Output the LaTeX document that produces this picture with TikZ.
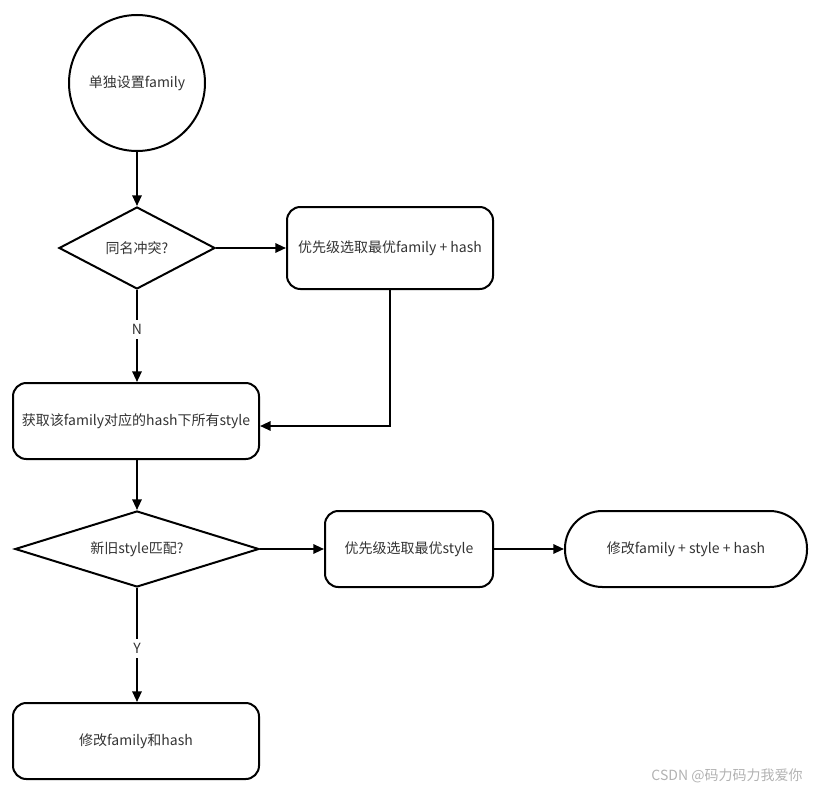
\documentclass[tikz,border=0pt]{standalone}
\usepackage{fontspec}
\setmainfont{Noto Sans CJK SC}
\usetikzlibrary{shapes.geometric,arrows.meta,calc}
\definecolor{txt}{HTML}{333333}
\begin{document}
\begin{tikzpicture}[x=0.75pt,y=-0.75pt,
  every node/.style={font=\fontsize{10.5}{12}\selectfont, text=txt},
  shp/.style={draw=black, line width=1.5pt, inner sep=0pt},
  rbox/.style={shp, rectangle, rounded corners=10pt},
  dia/.style={shp, diamond, aspect=1.9},
  arr/.style={line width=1.5pt, -{Triangle[length=8pt,width=7pt]}},
  lbl/.style={fill=white, inner sep=3pt}]
\useasboundingbox (0,0) rectangle (821,792);
\node[shp, circle, minimum size=102pt] (start) at (137,83) {单独设置family};
\node[dia, minimum width=117pt, minimum height=61.5pt] (d1) at (137,248) {同名冲突?};
\node[rbox, minimum width=154.5pt, minimum height=61.5pt] (r1) at (390,248) {优先级选取最优family + hash};
\node[rbox, minimum width=184.5pt, minimum height=57pt] (r2) at (136,421) {获取该family对应的hash下所有style};
\node[dia, minimum width=183pt, minimum height=57pt] (d2) at (137,549) {新旧style匹配?};
\node[rbox, minimum width=126pt, minimum height=57pt] (r3) at (409,549) {优先级选取最优style};
\node[shp, rectangle, rounded corners=28pt, minimum width=181.5pt, minimum height=57pt] (r4) at (686,549) {修改family + style + hash};
\node[rbox, minimum width=184.5pt, minimum height=57pt] (r5) at (136,741) {修改family和hash};
\node[text=black!30, font=\fontsize{10.5}{12}\selectfont] (wm) at (727,776) {CSDN @码力码力我爱你};
\coordinate (c1) at (390,426);
\draw[arr] (start.south) -- (d1.north);
\draw[arr] (d1.east) -- (r1.west);
\draw[arr] (d1.south) -- node[lbl, pos=0.43] {N} (r2.north -| d1.south);
\draw[arr] (r1.south) -- (c1) -- (r2.east |- c1);
\draw[arr] (r2.south -| d2.north) -- (d2.north);
\draw[arr] (d2.east) -- (r3.west);
\draw[arr] (r3.east) -- (r4.west);
\draw[arr] (d2.south) -- node[lbl, pos=0.53] {Y} (r5.north -| d2.south);
\end{tikzpicture}
\end{document}
